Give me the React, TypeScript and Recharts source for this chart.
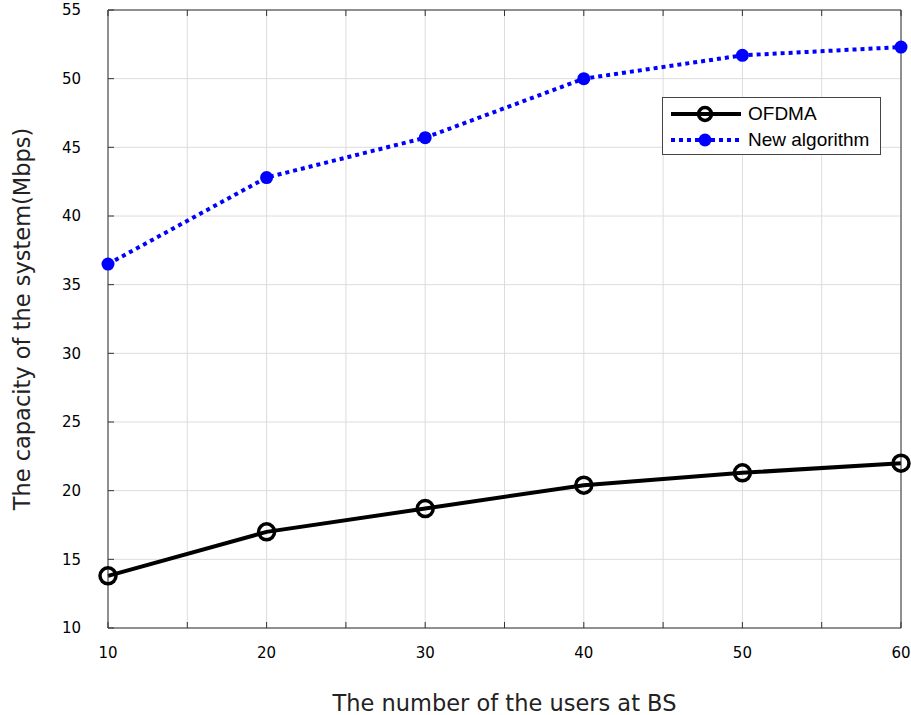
import { LineChart, Line, XAxis, YAxis, CartesianGrid, Legend } from "recharts";

const users = [10, 20, 30, 40, 50, 60];
const ofdma = [13.8, 17.0, 18.7, 20.4, 21.3, 22.0];
const newAlgorithm = [36.5, 42.8, 45.7, 50.0, 51.7, 52.3];

const xTicks = [10, 15, 20, 25, 30, 35, 40, 45, 50, 55, 60];
const yTicks = [10, 15, 20, 25, 30, 35, 40, 45, 50, 55];

const data = users.map((u, i) => ({ users: u, ofdma: ofdma[i], newAlg: newAlgorithm[i] }));

const font = "'DejaVu Sans', sans-serif";
const axisColor = "#333";

function LegendBox() {
  const row = { display: "flex", alignItems: "center", height: 26 } as const;
  return (
    <div
      style={{
        position: "absolute",
        left: 662,
        top: 97,
        width: 219,
        height: 58,
        background: "#fff",
        border: "1px solid #444",
        fontFamily: "'Liberation Sans', Arial, sans-serif",
        fontSize: 19,
        color: "#000",
        padding: "3px 0 0 6px",
        boxSizing: "border-box",
      }}
    >
      <div style={row}>
        <svg width={76} height={20}>
          <line x1={2} y1={10} x2={72} y2={10} stroke="#000" strokeWidth={4} />
          <circle cx={36} cy={10} r={6.5} fill="none" stroke="#000" strokeWidth={3.5} />
        </svg>
        <span style={{ marginLeft: 3 }}>OFDMA</span>
      </div>
      <div style={row}>
        <svg width={76} height={20}>
          <line x1={2} y1={10} x2={72} y2={10} stroke="#0000ff" strokeWidth={4} strokeDasharray="4 4" />
          <circle cx={36} cy={10} r={6.5} fill="#0000ff" />
        </svg>
        <span style={{ marginLeft: 3 }}>New algorithm</span>
      </div>
    </div>
  );
}

export default function App() {
  return (
    <div style={{ position: "absolute", left: 0, top: 0, width: 911, height: 715, background: "#fff" }}>
      <LineChart width={911} height={715} data={data} margin={{ top: 0, right: 0, bottom: 0, left: 0 }}>
        <CartesianGrid stroke="#dcdcdc" strokeWidth={1} xAxisId="bottom" yAxisId="left" />
        <XAxis
          xAxisId="bottom"
          dataKey="users"
          type="number"
          domain={[10, 60]}
          ticks={xTicks}
          interval={0}
          height={87}
          stroke={axisColor}
          tickSize={-6}
          tickMargin={25}
          tickFormatter={(v: number) => (v % 10 === 0 ? String(v) : "")}
          tick={{ fill: "#000", fontSize: 15, fontFamily: font }}
          label={{ value: "The number of the users at BS", position: "insideBottom", offset: 4, fill: "#222", fontSize: 22.5, fontFamily: font }}
        />
        <XAxis
          xAxisId="top"
          orientation="top"
          dataKey="users"
          type="number"
          domain={[10, 60]}
          ticks={xTicks}
          interval={0}
          height={10}
          stroke={axisColor}
          tickSize={-6}
          tickFormatter={() => ""}
        />
        <YAxis
          yAxisId="left"
          type="number"
          domain={[10, 55]}
          ticks={yTicks}
          interval={0}
          width={108}
          stroke={axisColor}
          tickSize={-6}
          tickMargin={33}
          tick={{ fill: "#000", fontSize: 15, fontFamily: font }}
          label={{ value: "The capacity of the system(Mbps)", angle: -90, position: "insideLeft", offset: 22, style: { textAnchor: "middle" }, fill: "#222", fontSize: 22.5, fontFamily: font }}
        />
        <YAxis
          yAxisId="right"
          orientation="right"
          type="number"
          domain={[10, 55]}
          ticks={yTicks}
          interval={0}
          width={10}
          stroke={axisColor}
          tickSize={-6}
          tickFormatter={() => ""}
        />
        <Legend content={() => <LegendBox />} wrapperStyle={{ position: "absolute", left: 0, top: 0, width: 0, height: 0 }} />
        <Line
          xAxisId="bottom"
          yAxisId="left"
          dataKey="ofdma"
          stroke="#000"
          strokeWidth={4}
          dot={{ r: 8, fill: "none", stroke: "#000", strokeWidth: 3.5 }}
          isAnimationActive={false}
        />
        <Line
          xAxisId="bottom"
          yAxisId="left"
          dataKey="newAlg"
          stroke="#0000ff"
          strokeWidth={4}
          strokeDasharray="4 4"
          dot={{ r: 6.5, fill: "#0000ff", stroke: "none", strokeDasharray: "" }}
          isAnimationActive={false}
        />
      </LineChart>
    </div>
  );
}
